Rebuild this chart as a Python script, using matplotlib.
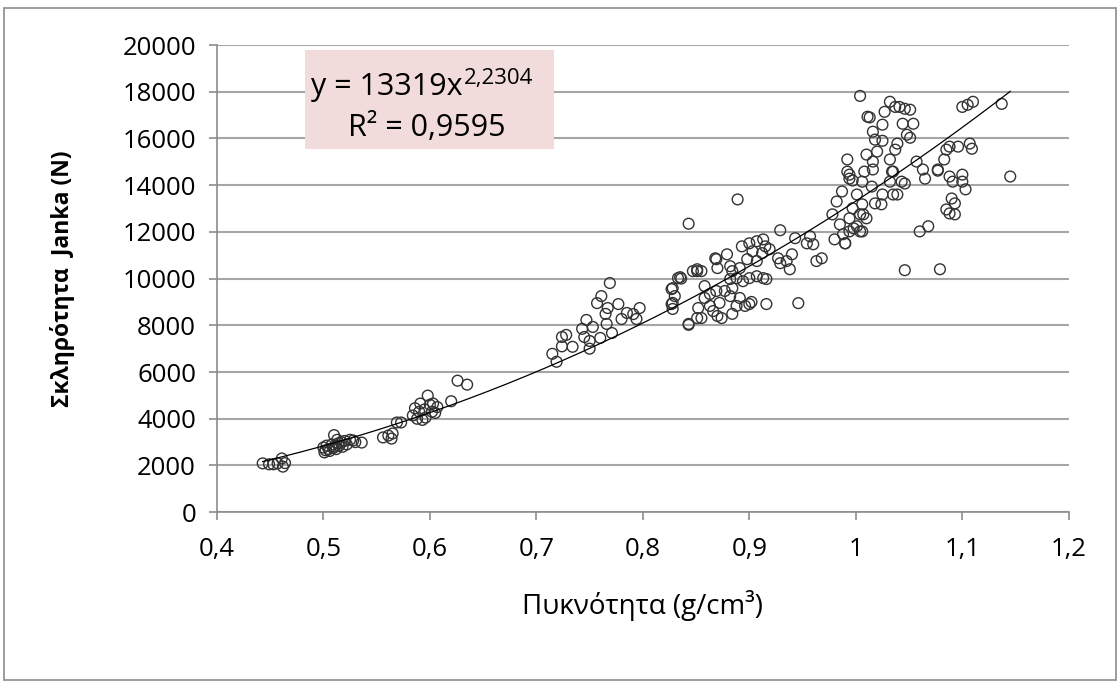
import numpy as np
import matplotlib
matplotlib.use("Agg")
import matplotlib.pyplot as plt
from matplotlib.patches import Rectangle
from matplotlib.ticker import FuncFormatter

plt.rcParams['font.family'] = ['Open Sans', 'DejaVu Sans']

# πυκνότητα (g/cm3) και σκληρότητα Janka (N), εκτιμήσεις από το γράφημα
density = [
    0.443, 0.449, 0.453, 0.457, 0.461, 0.462, 0.464,
    0.500, 0.501, 0.502, 0.503, 0.505, 0.506, 0.508, 0.509, 0.510, 0.511, 0.512,
    0.513, 0.514, 0.515, 0.517, 0.518, 0.520, 0.522, 0.525, 0.528, 0.530, 0.536,
    0.556, 0.561, 0.564, 0.565, 0.569, 0.573,
    0.584, 0.586, 0.588, 0.590, 0.591, 0.593, 0.595, 0.596, 0.598, 0.600, 0.602,
    0.603, 0.605, 0.607, 0.620, 0.626, 0.635,
    0.715, 0.719, 0.724, 0.724, 0.728, 0.734, 0.743, 0.745, 0.747, 0.750, 0.750,
    0.753, 0.757, 0.760, 0.761, 0.765, 0.766, 0.767, 0.769, 0.771, 0.777, 0.780,
    0.785, 0.791, 0.794, 0.797,
    0.827, 0.827, 0.828, 0.828, 0.828, 0.830, 0.833, 0.835, 0.836, 0.843, 0.843,
    0.843, 0.847, 0.851, 0.851, 0.851, 0.852, 0.855, 0.855, 0.858, 0.858, 0.863,
    0.863, 0.866, 0.868, 0.869, 0.869, 0.870, 0.870, 0.872, 0.874, 0.877, 0.879,
    0.882, 0.882, 0.882, 0.884, 0.884, 0.884, 0.888, 0.888, 0.889, 0.891, 0.891,
    0.893, 0.894, 0.896, 0.898, 0.900, 0.900, 0.900, 0.902, 0.903, 0.907, 0.907,
    0.907, 0.912, 0.913, 0.913, 0.915, 0.916, 0.916, 0.919, 0.927, 0.929, 0.929,
    0.935, 0.938, 0.940, 0.943, 0.946, 0.954, 0.957, 0.960, 0.963, 0.968,
    0.978, 0.980, 0.982, 0.985, 0.987, 0.988, 0.990, 0.990, 0.992, 0.992, 0.994,
    0.994, 0.994, 0.994, 0.997, 0.997, 0.998, 1.001, 1.001, 1.004, 1.004, 1.004,
    1.006, 1.006, 1.006, 1.007, 1.008, 1.010, 1.010, 1.011, 1.013, 1.015, 1.016,
    1.016, 1.016, 1.018, 1.018, 1.020, 1.024, 1.025, 1.025, 1.025, 1.027, 1.032,
    1.032, 1.032, 1.034, 1.035, 1.035, 1.037, 1.037, 1.039, 1.039, 1.041, 1.043,
    1.044, 1.046, 1.046, 1.046, 1.048, 1.051, 1.051, 1.054, 1.057, 1.060, 1.063,
    1.065, 1.068, 1.077, 1.077, 1.079, 1.083, 1.085, 1.085, 1.088, 1.088, 1.088,
    1.090, 1.091, 1.093, 1.093, 1.096, 1.100, 1.100, 1.100, 1.103, 1.105, 1.107,
    1.109, 1.110, 1.137, 1.145,
]
hardness = [
    2090, 2050, 2050, 2090, 2300, 1950, 2100,
    2770, 2560, 2650, 2850, 2700, 2620, 2900, 2750, 3300, 2800, 2700,
    3100, 2950, 2850, 3000, 2800, 3050, 2900, 3100, 3070, 3000, 2980,
    3200, 3280, 3150, 3370, 3840, 3840,
    4140, 4450, 4000, 4300, 4650, 3950, 4400, 4050, 4990, 4600, 4300,
    4650, 4250, 4500, 4750, 5630, 5460,
    6780, 6440, 7500, 7100, 7590, 7080, 7850, 7500, 8230, 7330, 7000,
    7930, 8950, 7460, 9250, 8490, 8060, 8740, 9810, 7670, 8910, 8270,
    8530, 8480, 8270, 8740,
    9550, 8910, 9590, 8700, 8960, 9250, 10020, 10060, 10000, 12350, 8060,
    8020, 10320, 10400, 8310, 10320, 8740, 10320, 8310, 9680, 9170, 9340,
    8830, 8610, 10870, 9470, 10830, 10450, 8400, 8960, 8310, 9470, 11040,
    10530, 9250, 9980, 9590, 10320, 8490, 10020, 8830, 13390, 10450, 9170,
    11380, 9890, 8830, 10830, 11510, 10020, 8910, 9000, 11170, 11600, 10750,
    10100, 11090, 11680, 10020, 11380, 9980, 8910, 11260, 10870, 12070, 10660,
    10750, 10400, 11040, 11730, 8950, 11510, 11810, 11470, 10750, 10870,
    12750, 11680, 13300, 12320, 13730, 11900, 11510, 11510, 15100, 14580, 14450,
    14280, 12020, 12580, 14200, 13010, 12150, 13600, 12240, 17820, 12750, 12020,
    13180, 12020, 14150, 12750, 14580, 15310, 12580, 16930, 16900, 13940, 16290,
    15010, 14670, 15950, 13220, 15440, 13180, 16590, 15900, 13600, 17140, 17570,
    15100, 14150, 14580, 14580, 13600, 17350, 15520, 15780, 13600, 17350, 14150,
    16630, 17270, 14070, 10360, 16160, 17230, 16030, 16630, 15010, 12020, 14670,
    14280, 12240, 14670, 14620, 10400, 15100, 15520, 12960, 15650, 14370, 12790,
    13430, 14150, 13220, 12750, 15650, 17350, 14450, 14150, 13820, 17440, 15780,
    15560, 17570, 17480, 14370,
]

# εξίσωση τάσης
coef = 13319
power = 2.2304
x_ticks = [0.4, 0.5, 0.6, 0.7, 0.8, 0.9, 1.0, 1.1, 1.2]
y_ticks = list(range(0, 20001, 2000))

fig = plt.figure(figsize=(11.18, 6.82), dpi=100)
ax = fig.add_axes([0.194, 0.249, 0.762, 0.685])

ax.scatter(density, hardness, s=60, facecolors='none', edgecolors='#333333',
           linewidths=1.0, zorder=3)

xs = np.linspace(min(density), max(density), 200)
ax.plot(xs, coef * xs ** power, color='black', linewidth=0.9, zorder=4)

ax.set_xlim(0.4, 1.2)
ax.set_ylim(0, 20000)
ax.set_xticks(x_ticks)
ax.set_yticks(y_ticks)
ax.xaxis.set_major_formatter(FuncFormatter(lambda v, p: ('%g' % round(v, 1)).replace('.', ',')))
ax.yaxis.set_major_formatter(FuncFormatter(lambda v, p: '%d' % v))
ax.tick_params(axis='both', labelsize=18.5, color='#8c8c8c', length=6, width=1.2,
               direction='out')
ax.tick_params(axis='x', pad=12)
ax.tick_params(axis='y', pad=9)
ax.grid(axis='y', color='#a6a6a6', linewidth=1.5)
ax.set_axisbelow(True)
for s in ['top', 'right']:
    ax.spines[s].set_visible(False)
for s in ['left', 'bottom']:
    ax.spines[s].set_color('#8c8c8c')
    ax.spines[s].set_linewidth(1.2)

ax.set_xlabel('Πυκνότητα (g/cm³)', fontsize=20, labelpad=20)
ax.set_ylabel('Σκληρότητα  Janka (N)', fontsize=16.5, fontweight='bold', labelpad=34)

# πλαίσιο εξίσωσης
ax.add_patch(Rectangle((0.483, 15550), 0.234, 4250, facecolor='#f2dcdb',
                       edgecolor='none', zorder=5))
t1 = ax.text(0.488, 18200, 'y = 13319x', fontsize=22, ha='left', va='center', zorder=6)
ax.annotate('2,2304', xy=(1, 1), xycoords=t1, xytext=(1, -12),
            textcoords='offset points', fontsize=16, ha='left', va='bottom', zorder=6)
ax.text(0.597, 16450, 'R² = 0,9595', fontsize=22, ha='center', va='center', zorder=6)

fig.patches.append(Rectangle((0.004, 0.003), 0.994, 0.986, transform=fig.transFigure,
                             fill=False, edgecolor='#8c8c8c', linewidth=1.2))

fig.savefig('out.png', dpi=100)
